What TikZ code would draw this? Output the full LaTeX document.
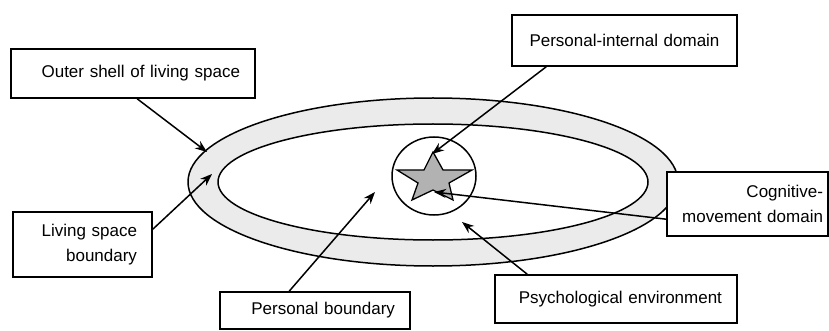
\documentclass[tikz,border=0pt]{standalone}
\usepackage{fontspec}
\setmainfont{Liberation Sans}
\usetikzlibrary{arrows.meta,calc}
\tikzset{
  lbox/.style={draw=black, line width=1.6pt, fill=white, inner ysep=0pt,
    font=\fontsize{17}{24.5}\selectfont, anchor=center},
  rbox/.style={lbox, align=right},
  cbox/.style={lbox, align=center},
  ptr/.style={line width=1.5pt, -{Stealth[length=12pt,width=9pt]}},
  shape line/.style={line width=1.5pt},
}
\begin{document}
\begin{tikzpicture}[x=1pt,y=-1pt]
\useasboundingbox (0,0) rectangle (829,331);
% ring
\filldraw[shape line, fill=black!8] (433,182) ellipse [x radius=245pt, y radius=84pt];
\filldraw[shape line, fill=white] (433,182) ellipse [x radius=215pt, y radius=58pt];
% circle and star
\filldraw[shape line, fill=white] (434,176) ellipse [x radius=42pt, y radius=39pt];
\filldraw[line width=1.3pt, fill=black!30, line join=miter]
  (433,152) -- (443,170) -- (472,170) -- (449,183) -- (453,200) -- (433,190)
  -- (412,200) -- (418,183) -- (397,170) -- (424,170) -- cycle;
% boxes
\node[rbox, text width=214pt, inner xsep=15pt, minimum height=49pt] (outer) at (133,73.5) {Outer shell of living space};
\node[cbox, text width=225pt, inner xsep=0pt, minimum height=51pt] (pint) at (624.5,40.5) {Personal-internal domain};
\node[rbox, text width=109pt, inner xsep=15pt, minimum height=65pt] (lsb) at (82.5,244.5) {Living space\\boundary};
\node[rbox, text width=160pt, inner xsep=15pt, minimum height=37pt] (pb) at (315,310.5) {Personal boundary};
\node[rbox, text width=212pt, inner xsep=15pt, minimum height=48pt] (psy) at (616,299) {Psychological environment};
\node[rbox, text width=151pt, inner xsep=5pt, minimum height=64pt] (cog) at (747.5,204) {Cognitive-\\movement domain};
% arrow tips
\coordinate (tOuter) at (207,152);
\coordinate (tPint) at (432,154);
\coordinate (tLsb) at (212,174);
\coordinate (tPb) at (375,192);
\coordinate (tPsy) at (462,222);
\coordinate (tCog) at (434,192);
% arrows
\draw[ptr] ($(outer.south west)+(127,0)$) -- (tOuter);
\draw[ptr] ($(pint.south west)+(35,0)$) -- (tPint);
\draw[ptr] ($(lsb.north east)+(0,18)$) -- (tLsb);
\draw[ptr] ($(pb.north west)+(70,0)$) -- (tPb);
\draw[ptr] ($(psy.north west)+(33,0)$) -- (tPsy);
\draw[ptr] ($(cog.north west)+(0,48)$) -- (tCog);
\end{tikzpicture}
\end{document}
